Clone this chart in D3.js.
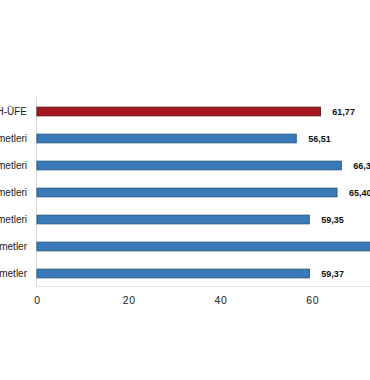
<!DOCTYPE html>
<html>
<head>
<meta charset="utf-8">
<script src="https://cdn.jsdelivr.net/npm/d3@7"></script>
<style>
  body { margin: 0; background: #fff; }
  svg { display: block; font-family: "Liberation Sans", Arial, sans-serif; }
</style>
</head>
<body>
<script>
var w = 370;
var h = 380;

// data
var categories = [
  "H-ÜFE",
  "Ulaştırma ve depolama hizmetleri",
  "Konaklama ve yiyecek hizmetleri",
  "Bilgi ve iletişim hizmetleri",
  "Gayrimenkul hizmetleri",
  "Mesleki, bilimsel ve teknik hizmetler",
  "İdari ve destek hizmetler"
];
var values = [61.77, 56.51, 66.33, 65.40, 59.35, 86.50, 59.37];
var valueLabels = ["61,77", "56,51", "66,33", "65,40", "59,35", "86,50", "59,37"];
var xTicks = [0, 20, 40, 60];

var svg = d3.select("body").append("svg")
    .attr("width", w)
    .attr("height", h);

var x = d3.scaleLinear()
    .domain([0, 80])
    .range([37, 404]);

var y = d3.scaleBand()
    .domain(categories)
    .range([98, 287])
    .paddingInner(0.68)
    .paddingOuter(0.34);

// axis lines
svg.append("line")
    .attr("x1", x(0) - 0.5).attr("x2", x(0) - 0.5)
    .attr("y1", 97).attr("y2", 287)
    .attr("stroke", "#d9d9d9");

svg.append("line")
    .attr("x1", x(0) - 0.5).attr("x2", w)
    .attr("y1", 286.5).attr("y2", 286.5)
    .attr("stroke", "#e3e3e3");

// x ticks
var xAxis = svg.append("g")
    .attr("transform", "translate(0,286)")
    .call(d3.axisBottom(x).tickValues(xTicks).tickSize(0).tickPadding(11));
xAxis.select(".domain").remove();
xAxis.selectAll("text")
    .attr("font-size", 10.5)
    .attr("font-family", "Liberation Sans, Arial, sans-serif")
    .attr("letter-spacing", 0.6)
    .attr("fill", "#222");

// bars
svg.selectAll("rect.bar")
    .data(values)
    .enter().append("rect")
    .attr("class", "bar")
    .attr("x", x(0))
    .attr("y", function(d, i) { return y(categories[i]); })
    .attr("width", function(d) { return x(d) - x(0); })
    .attr("height", y.bandwidth())
    .attr("fill", function(d, i) { return i === 0 ? "#a8171e" : "#3a7ab8"; })
    .attr("stroke", function(d, i) { return i === 0 ? "#5e1012" : "#285a88"; })
    .attr("stroke-width", 1);

// category labels
svg.selectAll("text.cat")
    .data(categories)
    .enter().append("text")
    .attr("class", "cat")
    .attr("x", 27)
    .attr("y", function(d) { return y(d) + y.bandwidth() / 2; })
    .attr("dy", "0.35em")
    .attr("text-anchor", "end")
    .attr("font-size", 10)
    .attr("fill", "#222")
    .text(function(d) { return d; });

// value labels
svg.selectAll("text.val")
    .data(values)
    .enter().append("text")
    .attr("class", "val")
    .attr("x", function(d) { return x(d) + 12; })
    .attr("y", function(d, i) { return y(categories[i]) + y.bandwidth() / 2; })
    .attr("dy", "0.35em")
    .attr("font-size", 9)
    .attr("font-weight", "bold")
    .attr("fill", "#111")
    .text(function(d, i) { return valueLabels[i]; });
</script>
</body>
</html>
